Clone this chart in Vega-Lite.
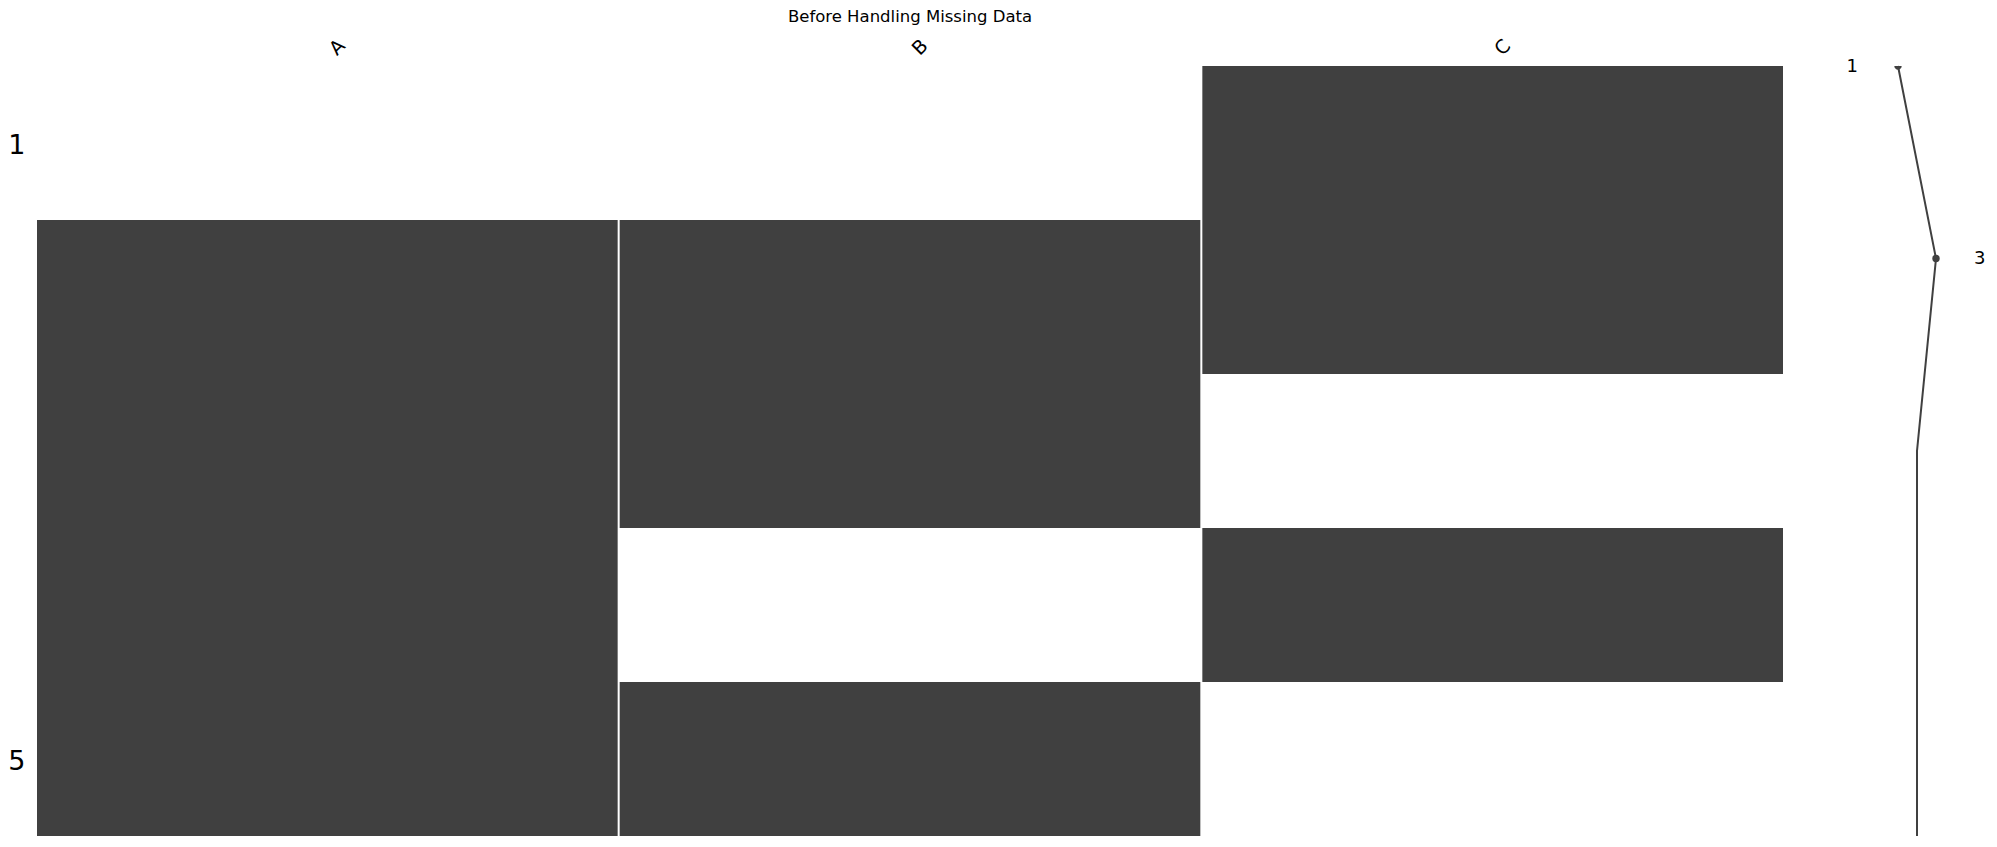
{
  "$schema": "https://vega.github.io/schema/vega-lite/v6.json",
  "autosize": "none",
  "padding": {"left": 37, "top": 66, "right": 214, "bottom": 11},
  "width": 1746,
  "height": 770,
  "background": "white",
  "config": {
    "view": {"stroke": null},
    "font": "DejaVu Sans",
    "axis": {"labelFont": "DejaVu Sans", "labelColor": "black"}
  },
  "title": {
    "text": "Before Handling Missing Data",
    "font": "DejaVu Sans",
    "fontSize": 16.5,
    "fontWeight": "normal",
    "color": "black",
    "anchor": "middle",
    "offset": 10
  },
  "datasets": {
    "cells": [
      {"row": 1, "col": "A", "status": "missing"},
      {"row": 1, "col": "B", "status": "missing"},
      {"row": 1, "col": "C", "status": "present"},
      {"row": 2, "col": "A", "status": "present"},
      {"row": 2, "col": "B", "status": "present"},
      {"row": 2, "col": "C", "status": "present"},
      {"row": 3, "col": "A", "status": "present"},
      {"row": 3, "col": "B", "status": "present"},
      {"row": 3, "col": "C", "status": "missing"},
      {"row": 4, "col": "A", "status": "present"},
      {"row": 4, "col": "B", "status": "missing"},
      {"row": 4, "col": "C", "status": "present"},
      {"row": 5, "col": "A", "status": "present"},
      {"row": 5, "col": "B", "status": "present"},
      {"row": 5, "col": "C", "status": "missing"}
    ],
    "spark": [
      {"idx": 1, "count": 1},
      {"idx": 2, "count": 3},
      {"idx": 3, "count": 2},
      {"idx": 4, "count": 2},
      {"idx": 5, "count": 2}
    ]
  },
  "layer": [
    {
      "data": {"name": "cells"},
      "mark": {"type": "rect"},
      "encoding": {
        "x": {
          "field": "col",
          "type": "nominal",
          "scale": {"paddingInner": 0.00344, "paddingOuter": 0},
          "axis": {
            "orient": "top",
            "title": null,
            "domain": false,
            "ticks": false,
            "labelAngle": -45,
            "labelAlign": "center",
            "labelBaseline": "middle",
            "labelOffset": 10,
            "labelPadding": 19,
            "labelFontSize": 19
          }
        },
        "y": {
          "field": "row",
          "type": "ordinal",
          "scale": {"paddingInner": 0, "paddingOuter": 0},
          "axis": {
            "title": null,
            "domain": false,
            "ticks": false,
            "values": [1, 5],
            "labelAngle": 0,
            "labelFontSize": 27,
            "labelPadding": 12,
            "labelOffset": 3
          }
        },
        "color": {
          "field": "status",
          "type": "nominal",
          "scale": {"domain": ["present", "missing"], "range": ["#404040", "#ffffff"]},
          "legend": null
        }
      }
    },
    {
      "data": {"name": "spark"},
      "encoding": {
        "x": {
          "field": "count",
          "type": "quantitative",
          "scale": {"domain": [1, 3], "range": [1861, 1899], "zero": false, "nice": false},
          "axis": null
        },
        "y": {
          "field": "idx",
          "type": "quantitative",
          "scale": {"domain": [1, 5], "reverse": true, "zero": false, "nice": false},
          "axis": null
        }
      },
      "layer": [
        {
          "mark": {"type": "line", "color": "#404040", "strokeWidth": 2},
          "encoding": {"order": {"field": "idx", "type": "quantitative"}}
        },
        {
          "transform": [{"filter": {"field": "count", "equal": 1}}],
          "mark": {"type": "point", "filled": true, "color": "#404040", "opacity": 1, "size": 55, "shape": "M -1 0 A 1 1 0 0 0 1 0 Z"}
        },
        {
          "transform": [{"filter": {"field": "count", "equal": 3}}],
          "mark": {"type": "point", "filled": true, "color": "#404040", "opacity": 1, "size": 55, "shape": "circle"}
        },
        {
          "transform": [{"filter": {"field": "count", "equal": 1}}],
          "mark": {"type": "text", "align": "right", "baseline": "middle", "dx": -40, "dy": 1, "fontSize": 18, "color": "black"},
          "encoding": {"text": {"field": "count", "type": "quantitative"}}
        },
        {
          "transform": [{"filter": {"field": "count", "equal": 3}}],
          "mark": {"type": "text", "align": "left", "baseline": "middle", "dx": 38, "fontSize": 18, "color": "black"},
          "encoding": {"text": {"field": "count", "type": "quantitative"}}
        }
      ]
    }
  ],
  "resolve": {"scale": {"x": "independent", "y": "independent", "color": "independent"}}
}
